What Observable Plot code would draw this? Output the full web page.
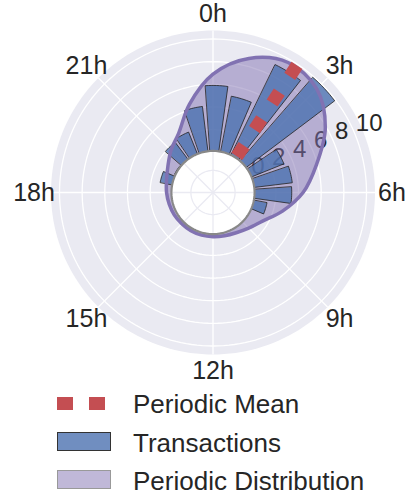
<!DOCTYPE html>
<html>
<head>
<meta charset="utf-8">
<script src="https://cdn.jsdelivr.net/npm/d3@7"></script>
<script src="https://cdn.jsdelivr.net/npm/@observablehq/plot@0.6"></script>
<style>
  html, body { margin: 0; padding: 0; background: #fff; }
  #wrap { position: relative; width: 406px; height: 497px; font-family: "Liberation Sans", Arial, sans-serif; }
  #chart svg { display: block; }
  #legend { position: absolute; left: 0; top: 385px; }
</style>
</head>
<body>
<div id="wrap">
  <div id="chart"></div>
  <svg id="legend" width="406" height="112">
    <line x1="57" x2="105" y1="18.5" y2="18.5" stroke="#C44E52" stroke-width="13" stroke-dasharray="16,16"/>
    <text x="133" y="28" font-size="26" fill="#262626" font-family="Liberation Sans, Arial, sans-serif">Periodic Mean</text>
    <rect x="57.5" y="47.5" width="53" height="18" fill="#4C72B0" fill-opacity="0.8" stroke="#333" stroke-width="1"/>
    <text x="133" y="67" font-size="26" fill="#262626" font-family="Liberation Sans, Arial, sans-serif">Transactions</text>
    <rect x="57.5" y="85.5" width="53" height="18" fill="#8172B2" fill-opacity="0.5" stroke="#999" stroke-width="1"/>
    <text x="133" y="105" font-size="26" fill="#262626" font-family="Liberation Sans, Arial, sans-serif">Periodic Distribution</text>
  </svg>
</div>
<script>
// ---------------- data ----------------
const hours = d3.range(24);
// transactions per hour (bar heights)
const transactions = [5.9, 5.1, 9.0, 9.9, 3.2, 3.5, 3.4, 1.3, 0, 0, 0, 0,
                      0, 0, 0, 0, 0, 0, 0, 1.2, 0.2, 2.0, 2.2, 4.1];
// periodic distribution read at each hour angle
const distribution = [6.9, 8.7, 9.7, 9.4, 7.9, 5.9, 4.4, 2.8, 1.5, 0.9, 0.55, 0.4,
                      0.35, 0.35, 0.35, 0.35, 0.4, 0.45, 0.55, 0.7, 1.05, 1.7, 2.5, 4.5];
const meanHour = 2.23;
const angleTickHours = [0, 3, 6, 9, 12, 15, 18, 21];
const angleTickLabels = ["0h", "3h", "6h", "9h", "12h", "15h", "18h", "21h"];
const radialTicks = [0, 2, 4, 6, 8, 10];

// ---------------- geometry helpers (style) ----------------
const hole = 3.55;      // radius of the central hole, in value units
const rMax = 10.75;     // outer edge of the polar axes, in value units
const R = hole + rMax;
const barOffset = 2;    // degrees
const barHalf = 6;      // degrees
const rad = d => d * Math.PI / 180;
const pt = (deg, r, extra = {}) => ({x: r * Math.sin(rad(deg)), y: r * Math.cos(rad(deg)), ...extra});
const circle = (r, key) => d3.range(0, 360, 2).map(a => pt(a, r, {k: key}));

const bg = circle(R, "bg");
const gridCircles = radialTicks.filter(v => v > 0).flatMap(v => circle(hole + v, v));
const spokes = d3.range(0, 360, 45);

const bars = hours.filter(h => transactions[h] > 0).flatMap(h => {
  const c = h * 15 + barOffset;
  const a0 = c - barHalf, a1 = c + barHalf;
  const inner = d3.range(0, 9).map(i => pt(a0 + (a1 - a0) * i / 8, hole, {h}));
  const outer = d3.range(0, 9).map(i => pt(a1 - (a1 - a0) * i / 8, hole + transactions[h], {h}));
  return inner.concat(outer);
});

const dist = hours.map(h => pt(h * 15, hole + distribution[h]));
const holeDisk = circle(hole + 0.12, "hole");
const innerCircle = circle(1.95, "inner");
const meanDeg = meanHour * 15;

const chart = Plot.plot({
  width: 406,
  height: 385,
  marginLeft: 50.5,
  marginRight: 31.5,
  marginTop: 30,
  marginBottom: 31,
  x: {domain: [-R, R], axis: null},
  y: {domain: [-R, R], axis: null},
  style: {fontFamily: "Liberation Sans, Arial, sans-serif", background: "white", overflow: "visible"},
  marks: [
    Plot.line(bg, {x: "x", y: "y", fill: "#EAEAF2", stroke: "none", curve: "linear-closed"}),
    Plot.line(gridCircles, {x: "x", y: "y", z: "k", stroke: "white", strokeWidth: 1.3, curve: "linear-closed"}),
    Plot.link(spokes, {x1: 0, y1: 0, x2: a => R * Math.sin(rad(a)), y2: a => R * Math.cos(rad(a)), stroke: "white", strokeWidth: 1.3}),
    Plot.text(radialTicks, {
      x: v => (hole + v) * Math.sin(rad(67.5)), y: v => (hole + v) * Math.cos(rad(67.5)),
      text: v => String(v), textAnchor: "start", lineAnchor: "bottom", dx: 1, dy: -3,
      fontSize: 24, fill: "#262626"
    }),
    Plot.line(dist, {x: "x", y: "y", fill: "#8172B2", fillOpacity: 0.5, stroke: "none", curve: "catmull-rom-closed"}),
    Plot.line(bars, {x: "x", y: "y", z: "h", fill: "#4C72B0", fillOpacity: 0.8, stroke: "#222", strokeWidth: 0.8, curve: "linear-closed"}),
    Plot.line(dist, {x: "x", y: "y", fill: "none", stroke: "#8172B2", strokeWidth: 3.5, curve: "catmull-rom-closed"}),
    Plot.line(holeDisk, {x: "x", y: "y", fill: "white", stroke: "none", curve: "linear-closed"}),
    Plot.line(innerCircle, {x: "x", y: "y", stroke: "#EAEAF2", strokeWidth: 1.3, curve: "linear-closed"}),
    Plot.link(spokes, {x1: 0, y1: 0, x2: a => hole * Math.sin(rad(a)), y2: a => hole * Math.cos(rad(a)), stroke: "#EAEAF2", strokeWidth: 1.3}),
    Plot.line(holeDisk, {x: "x", y: "y", fill: "none", stroke: "#888888", strokeWidth: 2.2, curve: "linear-closed"}),
    Plot.link([meanDeg], {
      x1: a => (hole + 0.27) * Math.sin(rad(a)), y1: a => (hole + 0.27) * Math.cos(rad(a)),
      x2: a => R * Math.sin(rad(a)), y2: a => R * Math.cos(rad(a)),
      stroke: "#C44E52", strokeWidth: 13, strokeDasharray: "13,19", strokeLinecap: "butt"
    }),
    Plot.text(angleTickHours, {
      x: h => (R + 1.5) * Math.sin(rad(h * 15)), y: h => (R + 1.5) * Math.cos(rad(h * 15)),
      text: (h, i) => angleTickLabels[i], fontSize: 25, fill: "#262626"
    })
  ]
});
document.getElementById("chart").appendChild(chart);
</script>
</body>
</html>
